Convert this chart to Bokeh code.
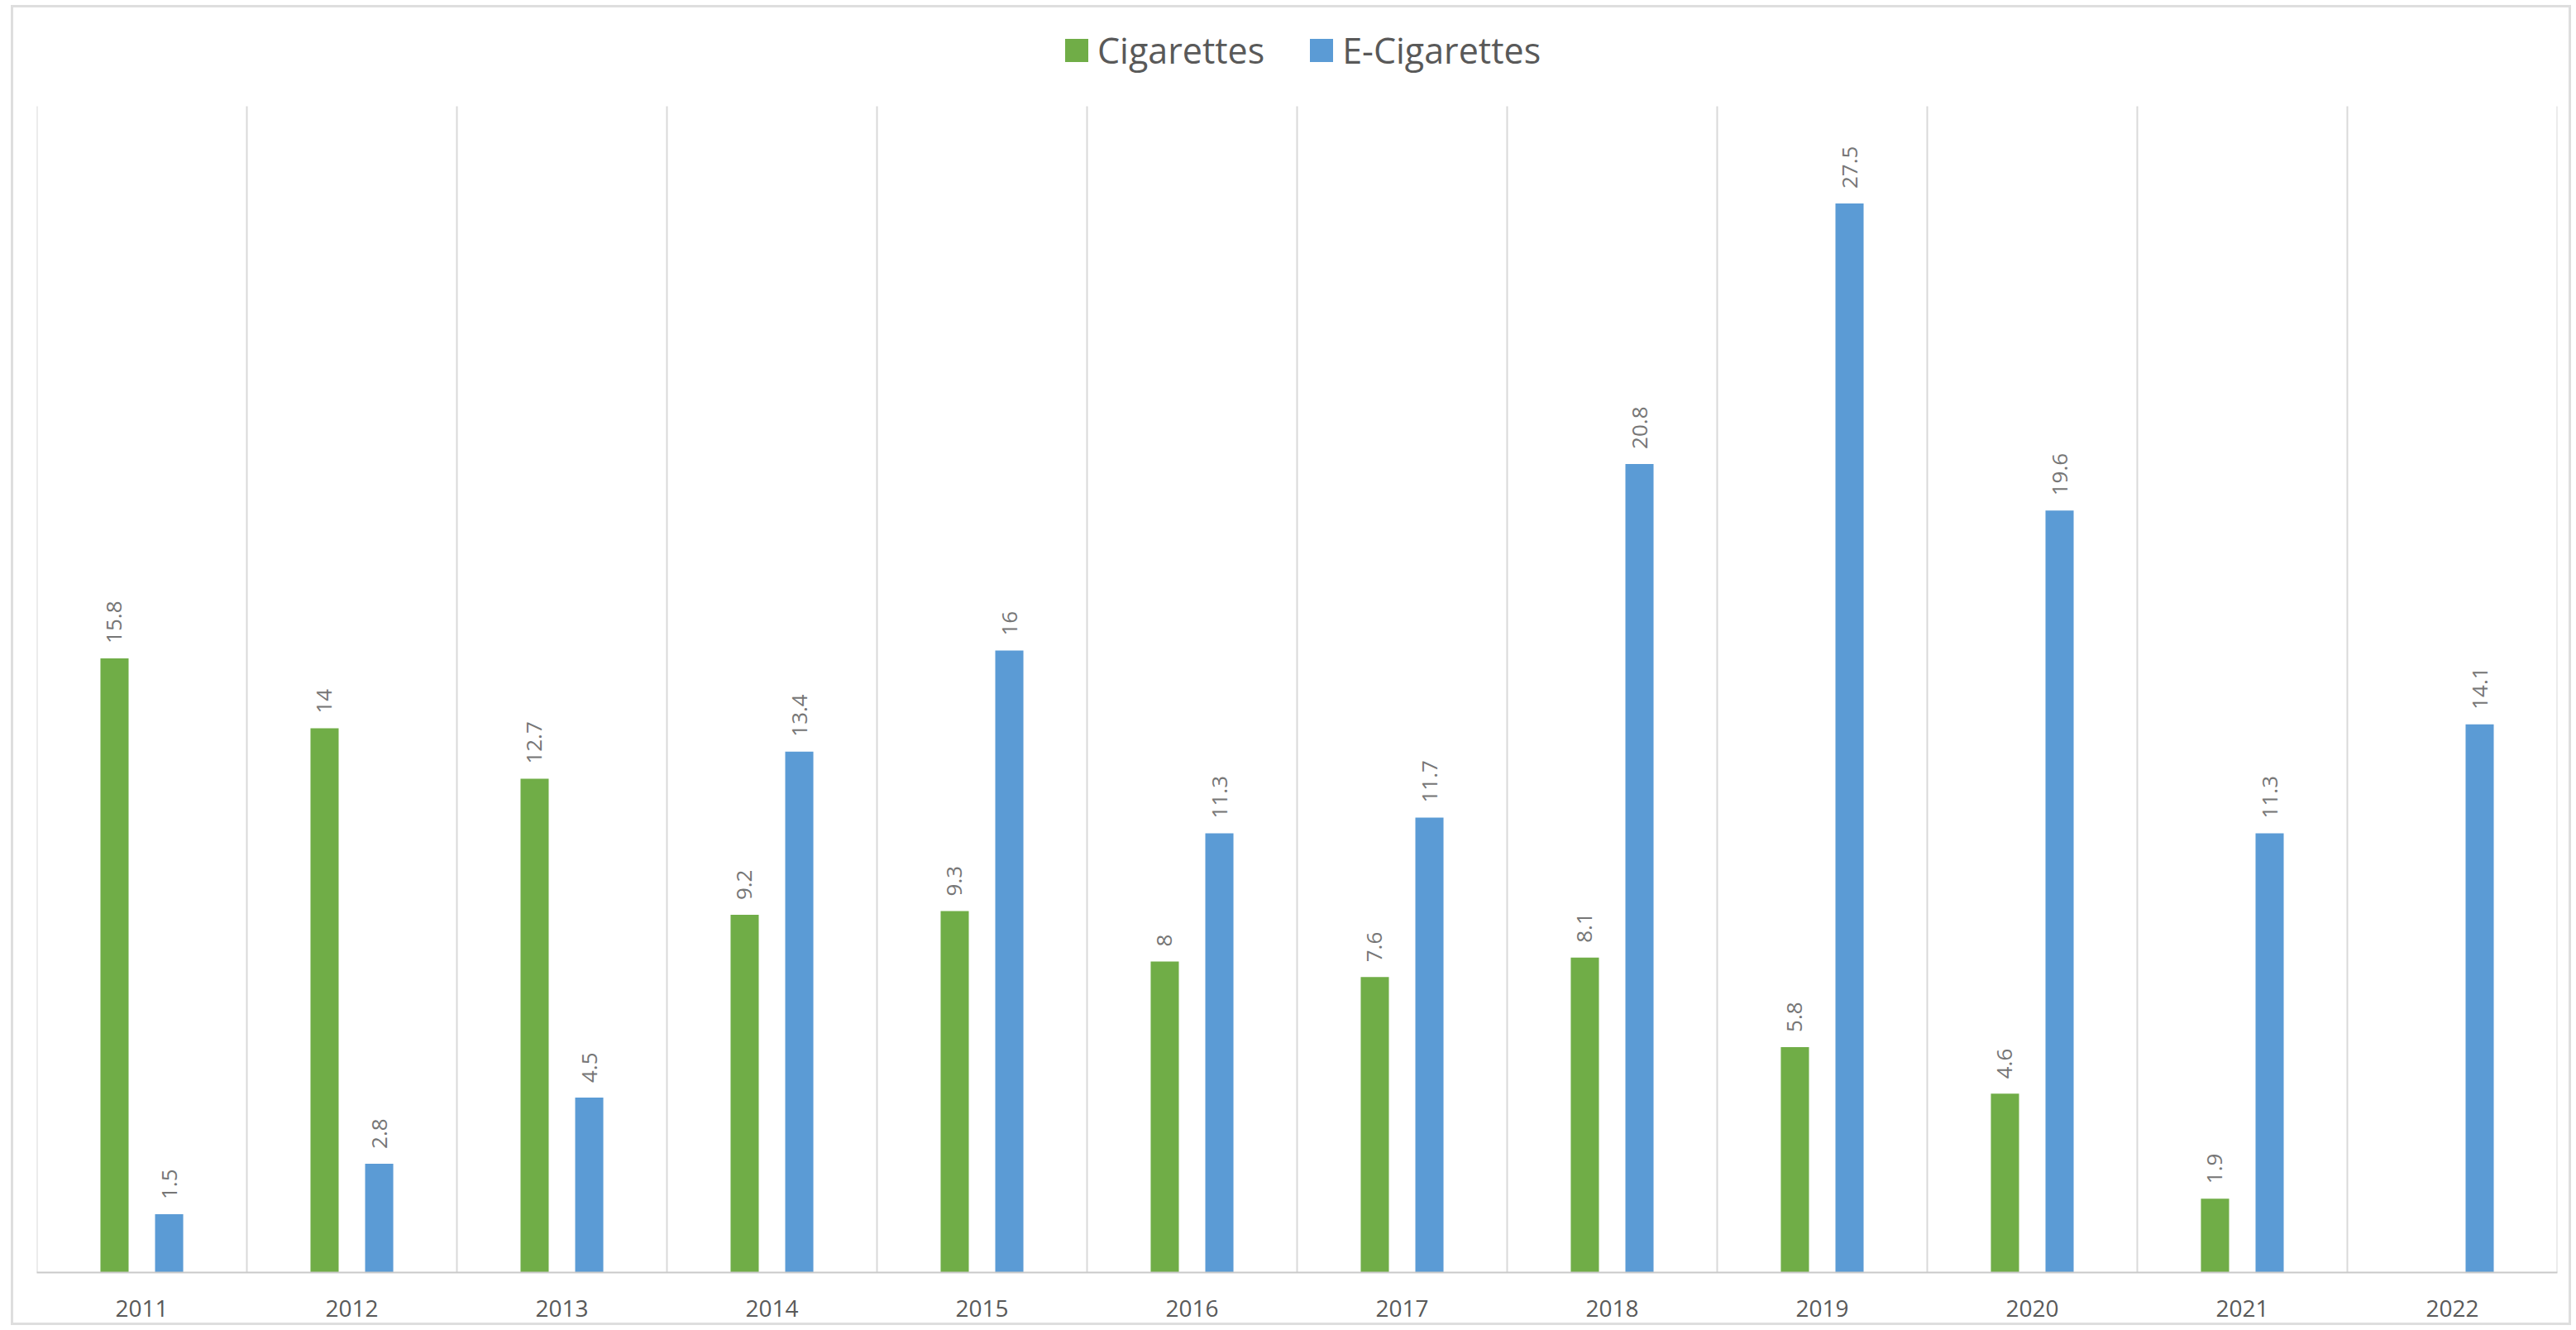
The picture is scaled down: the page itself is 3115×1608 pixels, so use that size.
import math
from bokeh.plotting import figure
from bokeh.models import ColumnDataSource, FactorRange, Range1d, LabelSet, Legend, LegendItem
from bokeh.transform import dodge
from bokeh.core.properties import value
from bokeh.embed import file_html
from bokeh.resources import INLINE

# ---- data ----
years = ["2011", "2012", "2013", "2014", "2015", "2016",
         "2017", "2018", "2019", "2020", "2021", "2022"]
cigarettes = [15.8, 14, 12.7, 9.2, 9.3, 8, 7.6, 8.1, 5.8, 4.6, 1.9, None]
e_cigarettes = [1.5, 2.8, 4.5, 13.4, 16, 11.3, 11.7, 20.8, 27.5, 19.6, 11.3, 14.1]
series_names = ["Cigarettes", "E-Cigarettes"]
y_axis_max = 30

# ---- style ----
GREEN = "#70AD47"
BLUE = "#5B9BD5"
GRID = "#d9d9d9"
TEXT = "#595959"
LABEL = "#767676"
FONT = "Open Sans"

W, H = 3096, 1596
MB_L, MB_R, MB_T, MB_B = 28, 20, 0, 67
frame_h = H - MB_T - MB_B
value_area_px = 1410
y_end = y_axis_max * frame_h / value_area_px

OFF = 0.13
BW = 0.134


def fmt(v):
    return ("%g" % v)


p = figure(width=W, height=H, x_range=FactorRange(factors=years),
           y_range=Range1d(0, y_end), output_backend="svg",
           toolbar_location=None, y_axis_location=None,
           min_border_left=MB_L, min_border_right=MB_R,
           min_border_top=MB_T, min_border_bottom=MB_B,
           margin=(6, 0, 0, 13),
           styles={"border": "3px solid #dedede"})
p.outline_line_color = None
p.xgrid.visible = False
p.ygrid.visible = False
p.background_fill_color = "white"
p.border_fill_color = "white"

src = ColumnDataSource(dict(
    year=years,
    cig=[float("nan") if v is None else v for v in cigarettes],
    ecig=[float("nan") if v is None else v for v in e_cigarettes],
    zero=[0] * len(years),
    top=[y_axis_max] * len(years),
))

# category separator lines
p.segment(x0=dodge("year", -0.5, range=p.x_range), y0="zero",
          x1=dodge("year", -0.5, range=p.x_range), y1="top",
          source=src, line_color=GRID, line_width=2)
last_src = ColumnDataSource(dict(year=[years[-1]], zero=[0], top=[y_axis_max]))
p.segment(x0=dodge("year", 0.5, range=p.x_range), y0="zero",
          x1=dodge("year", 0.5, range=p.x_range), y1="top",
          source=last_src, line_color=GRID, line_width=2)

r1 = p.vbar(x=dodge("year", -OFF, range=p.x_range), top="cig", width=BW,
            source=src, fill_color=GREEN, line_color=None)
r2 = p.vbar(x=dodge("year", OFF, range=p.x_range), top="ecig", width=BW,
            source=src, fill_color=BLUE, line_color=None)

for vals, off in ((cigarettes, -OFF), (e_cigarettes, OFF)):
    ys = [y for y, v in zip(years, vals) if v is not None]
    vs = [v for v in vals if v is not None]
    ls = ColumnDataSource(dict(year=ys, val=vs, txt=[fmt(v) for v in vs]))
    p.add_layout(LabelSet(x=dodge("year", off, range=p.x_range), y="val", text="txt",
                          source=ls, angle=math.pi / 2, y_offset=18,
                          text_align="left", text_baseline="middle",
                          text_font=value(FONT), text_font_size="26px",
                          text_color=LABEL))

legend = Legend(items=[LegendItem(label=series_names[0], renderers=[r1]),
                       LegendItem(label=series_names[1], renderers=[r2])],
                orientation="horizontal", location=(1240, 1448),
                glyph_width=35, glyph_height=35, label_standoff=8, spacing=51,
                padding=0, margin=0, border_line_color=None,
                background_fill_alpha=0,
                label_text_font=FONT, label_text_font_size="43px",
                label_text_color=TEXT)
p.add_layout(legend, "center")

ax = p.xaxis[0]
ax.axis_line_color = "#c9c9c9"
ax.axis_line_width = 2
ax.major_tick_line_color = None
ax.minor_tick_line_color = None
ax.major_label_text_font = FONT
ax.major_label_text_font_size = "28px"
ax.major_label_text_color = TEXT
ax.major_label_standoff = 27

open("out.html", "w").write(file_html(p, INLINE))
